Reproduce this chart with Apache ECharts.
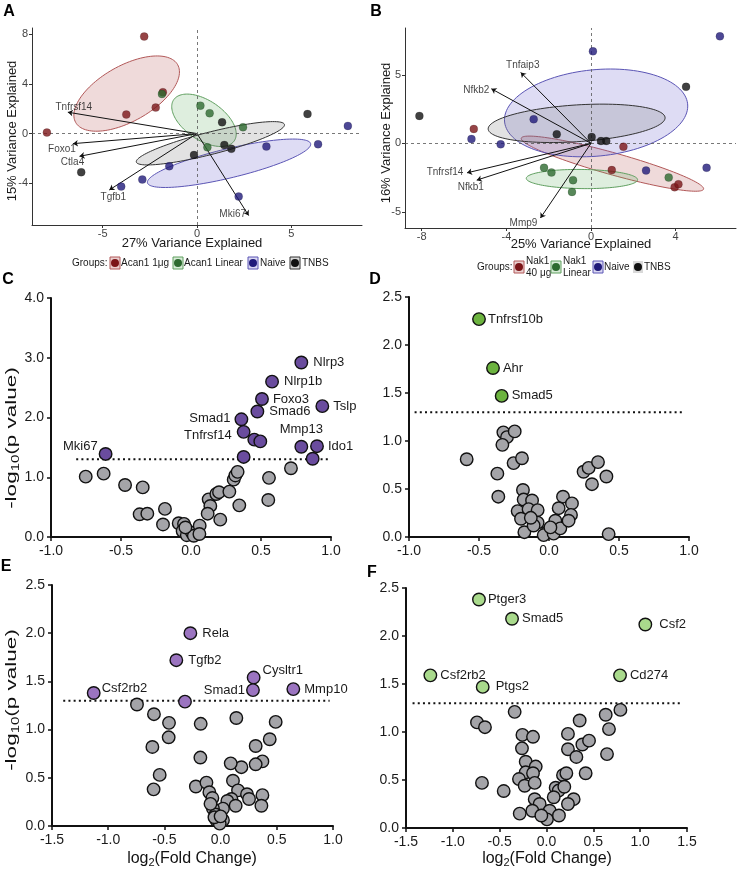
<!DOCTYPE html>
<html><head><meta charset="utf-8">
<script src="https://cdn.jsdelivr.net/npm/echarts@6/dist/echarts.min.js"></script>
<style>html,body{margin:0;padding:0;background:#fff}#c{width:738px;height:874px}</style>
</head><body><div id="c"></div><script>
// ---------------- DATA ----------------
// Panel A (PCA, Acan1)
const aGroupNames = ['Acan1 1μg', 'Acan1 Linear', 'Naive', 'TNBS'];
const aAcan1 = [[-2.80,7.81],[-1.81,3.33],[-2.19,2.09],[-3.75,1.53],[-7.96,0.08]];
const aLinear = [[-1.86,3.19],[0.18,2.25],[0.67,1.64],[2.44,0.51],[0.55,-1.10]];
const aNaive = [[8.0,0.62],[6.42,-0.86],[3.68,-1.05],[-1.47,-2.63],[-2.90,-3.70],[-4.02,-4.27],[2.21,-5.07]];
const aTnbs = [[5.86,1.58],[1.33,0.91],[1.45,-0.91],[1.82,-1.23],[-0.16,-1.72],[-6.14,-3.11]];
const aLoadGenes = ['Tnfrsf14','Foxo1','Ctla4','Tgfb1','Mki67'];
const aLoadings = [[-6.85,1.72],[-6.58,-0.81],[-6.23,-1.83],[-4.65,-4.54],[2.74,-6.60]];
// ellipse centre, half-width, half-height, y-offset at rightmost point (group order)
const aEllCenter = [[-3.73,3.22],[0.37,1.07],[1.70,-2.39],[0.71,-0.78]];
const aEllHalfW = [2.80,1.71,4.33,3.93];
const aEllHalfH = [3.03,2.11,1.95,1.745];
const aEllSkew = [1.74,-1.10,1.53,1.48];
const aXTicks = [-5,0,5];
const aYTicks = [-4,0,4,8];

// Panel B (PCA, Nak1)
const bGroupNames = ['Nak1\n40 μg', 'Nak1\nLinear', 'Naive', 'TNBS'];
const bNak1 = [[-5.54,1.05],[1.53,-0.24],[0.98,-1.95],[3.95,-3.20],[4.13,-2.98]];
const bLinear = [[-2.22,-1.78],[-1.87,-2.12],[-0.85,-2.68],[-0.90,-3.54],[3.67,-2.49]];
const bNaive = [[0.09,6.71],[6.09,7.80],[-2.71,1.76],[-5.65,0.32],[-4.27,-0.07],[2.60,-1.98],[5.46,-1.78]];
const bTnbs = [[-8.11,2.00],[4.49,4.12],[-1.62,0.66],[0.03,0.46],[0.47,0.17],[0.72,0.17]];
const bLoadGenes = ['Tnfaip3','Nfkb2','Tnfrsf14','Nfkb1','Mmp9'];
const bLoadings = [[-3.32,5.17],[-4.71,3.98],[-5.86,-2.15],[-5.40,-2.68],[-2.39,-5.44]];
const bEllCenter = [[1.01,-1.48],[-0.43,-2.60],[0.24,2.22],[-0.68,1.46]];
const bEllHalfW = [4.31,2.63,4.33,4.18];
const bEllHalfH = [2.01,0.70,3.20,1.40];
const bEllSkew = [-1.83,-0.05,0.50,0.40];
const bXTicks = [-8,-4,0,4];
const bYTicks = [-5,0,5];

// Volcano threshold
const pThreshold = 1.3;

// Panel C
const cGrey = [[-0.752,1.01],[-0.624,1.06],[-0.471,0.87],[-0.345,0.83],[-0.367,0.38],[-0.312,0.39],[-0.186,0.47],[-0.200,0.21],[-0.088,0.23],[-0.050,0.22],[-0.060,0.10],[-0.030,0.03],[0.007,0.07],[0.020,0.02],[0.062,0.19],[0.060,0.05],[0.126,0.63],[0.138,0.52],[0.119,0.39],[0.209,0.29],[0.181,0.72],[0.200,0.75],[0.274,0.76],[0.305,0.96],[0.317,1.03],[0.333,1.09],[0.345,0.53],[0.557,0.99],[0.552,0.62],[0.714,1.15],[-0.040,0.16]];
const cSigGenes = ['Nlrp3','Nlrp1b','Foxo3','Smad6','Tslp','Smad1','Tnfrsf14','','','','Mmp13','Ido1','','Mki67'];
const cSig = [[0.788,2.92],[0.579,2.60],[0.507,2.31],[0.474,2.10],[0.938,2.19],[0.360,1.97],[0.376,1.76],[0.452,1.63],[0.495,1.60],[0.376,1.34],[0.788,1.51],[0.900,1.52],[0.869,1.31],[-0.610,1.39]];
const cThreshX = [-0.82,0.98];

// Panel D
const dGrey = [[-0.588,0.81],[-0.326,1.09],[-0.300,1.04],[-0.245,1.10],[-0.333,0.96],[-0.253,0.77],[-0.193,0.82],[-0.369,0.66],[-0.362,0.42],[-0.186,0.49],[-0.181,0.39],[-0.121,0.38],[-0.224,0.27],[-0.146,0.29],[-0.200,0.19],[-0.081,0.28],[-0.081,0.15],[-0.176,0.05],[-0.110,0.12],[-0.014,0.05],[-0.038,0.02],[0.033,0.035],[0.045,0.17],[0.081,0.09],[0.100,0.42],[0.069,0.30],[0.164,0.35],[0.157,0.23],[0.140,0.17],[0.247,0.68],[0.283,0.72],[0.350,0.78],[0.307,0.55],[0.410,0.63],[0.426,0.03],[-0.130,0.20],[0.010,0.10]];
const dSigGenes = ['Tnfrsf10b','Ahr','Smad5'];
const dSig = [[-0.50,2.27],[-0.40,1.76],[-0.338,1.47]];
const dThreshX = [-0.96,0.97];

// Panel E
const eGrey = [[-0.744,1.26],[-0.593,1.16],[-0.459,1.07],[-0.462,0.92],[-0.607,0.82],[-0.542,0.53],[-0.596,0.38],[-0.177,1.06],[-0.180,0.71],[0.140,1.12],[0.490,1.08],[0.437,0.90],[0.312,0.83],[0.372,0.67],[0.312,0.64],[0.185,0.61],[0.090,0.65],[0.110,0.47],[-0.220,0.41],[-0.126,0.45],[-0.100,0.35],[-0.073,0.29],[0.155,0.37],[0.235,0.33],[0.253,0.28],[0.372,0.32],[0.363,0.21],[0.096,0.28],[0.060,0.26],[0.134,0.21],[0.021,0.18],[-0.068,0.18],[-0.044,0.12],[-0.037,0.06],[0.021,0.06],[-0.008,0.025],[-0.090,0.23],[-0.055,0.09],[0.000,0.10]];
const eSigGenes = ['Rela','Tgfb2','Cysltr1','Smad1','Mmp10','Csf2rb2',''];
const eSig = [[-0.269,2.00],[-0.394,1.72],[0.294,1.54],[0.288,1.41],[0.647,1.42],[-1.129,1.38],[-0.317,1.29]];
const eThreshX = [-1.40,0.97];

// Panel F
const fGrey = [[-0.742,1.10],[-0.657,1.05],[-0.340,1.21],[0.632,1.18],[0.789,1.23],[0.354,1.12],[0.667,1.03],[-0.257,0.97],[-0.144,0.95],[0.229,0.98],[-0.262,0.83],[0.229,0.82],[0.383,0.87],[0.454,0.91],[0.319,0.74],[0.646,0.77],[-0.222,0.69],[-0.115,0.64],[-0.222,0.58],[-0.144,0.57],[-0.294,0.51],[-0.233,0.44],[-0.126,0.47],[-0.457,0.385],[-0.689,0.47],[0.176,0.55],[0.212,0.57],[0.418,0.57],[0.098,0.42],[0.130,0.39],[0.077,0.32],[0.190,0.43],[0.290,0.30],[0.229,0.25],[-0.126,0.30],[-0.073,0.25],[-0.151,0.18],[-0.286,0.15],[0.034,0.18],[0.005,0.09],[-0.055,0.13],[0.133,0.13]];
const fSigGenes = ['Ptger3','Smad5','Csf2','Csf2rb2','Cd274','Ptgs2'];
const fSig = [[-0.721,2.38],[-0.368,2.18],[1.055,2.12],[-1.240,1.59],[0.785,1.59],[-0.681,1.47]];
const fThreshX = [-1.43,1.45];

// ---------------- STYLE ----------------
const FONT = '"Liberation Sans", Arial, Helvetica, sans-serif';
const ptColors = ['#7c1518','#2d6a2f','#201a7a','#111111'];
const ellFill = ['rgba(175,70,70,0.20)','rgba(90,170,90,0.20)','rgba(105,95,205,0.22)','rgba(110,110,110,0.20)'];
const ellStroke = ['#b25858','#5f9f5f','#5b55b5','#333333'];
const legFill = ['#ead0d0','#d7ebd7','#d9d7f1','#d9d9d9'];
const aLabelOffset = [[6,-5],[-11,6],[-7,6],[4,7],[-16,-1]];
const bLabelOffset = [[2,-7],[-15,1],[-22,-1],[-6,7],[-17,5]];
const cLabelPlace = [['right',5],['right',5],['right',4],['right',5],['right',4],['left',4,0,-1],['left',5,0,4],null,null,null,['top',4],['right',4],null,['left',1,0,-8]];
const dLabelPlace = [['right',2],['right',3],['right',3]];
const eLabelPlace = [['right',5],['right',5],['right',2,0,-7],['left',1],['right',4],['right',1,0,-5],null];
const fLabelPlace = [['right',2],['right',3],['right',7],['right',3],['right',3],['right',6]];

const chart = echarts.init(document.getElementById('c'));

const grids = [
  {left:32, top:28, width:330, height:197},
  {left:405, top:28, width:331, height:200},
  {left:51, top:298, width:280, height:239},
  {left:409, top:297, width:280, height:240},
  {left:52, top:585, width:281, height:241},
  {left:406, top:588, width:281, height:240}
];

function pcaAxis(dim, gi, min, max, ticks){
  return {type:'value', gridIndex:gi, min:min, max:max,
    axisLine:{show:true, onZero:false, lineStyle:{color:'#333', width:1}},
    axisTick:{show:true, customValues:ticks, length:3, lineStyle:{color:'#333', width:1}},
    axisLabel:{customValues:ticks, color:'#444', fontSize:11, fontFamily:FONT, margin: dim==='x'?3:4},
    splitLine:{show:false}};
}
function fmt(v){ return Math.abs(v) < 1e-9 ? '0.0' : v.toFixed(1); }
function volAxis(gi, min, max, iv){
  return {type:'value', gridIndex:gi, min:min, max:max, interval:iv,
    axisLine:{show:true, onZero:false, lineStyle:{color:'#111', width:2}},
    axisTick:{show:true, length:4, lineStyle:{color:'#111', width:1.5}},
    axisLabel:{formatter:fmt, color:'#1a1a1a', fontSize:14, fontFamily:FONT, margin:7, showMinLabel:true, showMaxLabel:true},
    splitLine:{show:false}};
}

function ellipseSeries(gi, centers, hw, hh, sk){
  return {type:'custom', xAxisIndex:gi, yAxisIndex:gi, silent:true, z:1, data:centers,
    renderItem:function(p, api){
      const i = p.dataIndex;
      const q = Math.sqrt(Math.max(hh[i]*hh[i]-sk[i]*sk[i], 0.0001));
      const pts = [];
      for(let k=0;k<120;k++){
        const t = k/120*Math.PI*2;
        pts.push(api.coord([centers[i][0]+hw[i]*Math.cos(t), centers[i][1]+sk[i]*Math.cos(t)+q*Math.sin(t)]));
      }
      return {type:'polygon', shape:{points:pts}, style:{fill:ellFill[i], stroke:ellStroke[i], lineWidth:1}};
    }};
}
function zeroLines(gi){
  return {type:'scatter', xAxisIndex:gi, yAxisIndex:gi, data:[], silent:true, z:2,
    markLine:{silent:true, symbol:['none','none'], label:{show:false}, animation:false,
      lineStyle:{color:'#555', width:0.8, type:[3,3]},
      data:[{xAxis:0},{yAxis:0}]}};
}
function arrowSeries(gi, loads){
  return {type:'lines', coordinateSystem:'cartesian2d', xAxisIndex:gi, yAxisIndex:gi, silent:true, z:4,
    symbol:['none','arrow'], symbolSize:5,
    lineStyle:{color:'#111', width:1, opacity:1},
    data:loads.map(p=>({coords:[[0,0],p]}))};
}
function arrowLabels(gi, genes, loads, offs){
  return {type:'scatter', xAxisIndex:gi, yAxisIndex:gi, silent:true, z:7, symbolSize:1,
    itemStyle:{color:'rgba(0,0,0,0)'},
    data:loads.map((p,i)=>({name:genes[i], value:p,
      label:{show:true, position:'inside', offset:offs[i], formatter:genes[i], color:'#111', fontSize:10, fontFamily:FONT}}))};
}
function groupPoints(gi, data, color){
  return {type:'scatter', xAxisIndex:gi, yAxisIndex:gi, silent:true, z:5, symbolSize:8, data:data,
    itemStyle:{color:color, borderColor:'rgba(0,0,0,0.35)', borderWidth:0.5}};
}
function greySeries(gi, data){
  return {type:'scatter', xAxisIndex:gi, yAxisIndex:gi, silent:true, z:4, symbolSize:12.5, data:data,
    itemStyle:{color:'#a4a4a8', borderColor:'#111', borderWidth:1.4, opacity:1}};
}
function sigSeries(gi, data, genes, place, color){
  return {type:'scatter', xAxisIndex:gi, yAxisIndex:gi, silent:true, z:5, symbolSize:12.5,
    itemStyle:{color:color, borderColor:'#111', borderWidth:1.4, opacity:1},
    data:data.map((p,i)=>{
      const pl = place[i];
      const item = {name:genes[i], value:p};
      if(pl && genes[i]){
        item.label = {show:true, position:pl[0], distance:pl[1], offset:[pl[2]||0, pl[3]||0],
          formatter:genes[i], color:'#1a1a1a', fontSize:13, fontFamily:FONT};
      }
      return item;
    })};
}
function threshSeries(gi, xs){
  return {type:'line', xAxisIndex:gi, yAxisIndex:gi, silent:true, z:3, symbol:'none',
    data:[[xs[0],pThreshold],[xs[1],pThreshold]],
    lineStyle:{color:'#111', width:2, type:[2,3.2], cap:'butt'}};
}

// ---------- graphics ----------
const g = [];
function txt(x, y, text, size, opts){
  g.push(Object.assign({type:'text', x:x, y:y, silent:true, z:10,
    style:{text:text, fontSize:size, fontFamily:FONT, fill:'#1a1a1a', align:'left', verticalAlign:'middle'}}, opts||{}));
}
// panel letters
[['A',9,12],['B',376,12],['C',8,280],['D',375,280],['E',6,567],['F',372,573]].forEach(l=>{
  g.push({type:'text', x:l[1], y:l[2], silent:true, style:{text:l[0], fontSize:16, fontWeight:'bold', fontFamily:FONT, fill:'#000', align:'center', verticalAlign:'middle'}});
});
// PCA titles
function ctext(x, y, text, size, rot){
  g.push({type:'text', x:x, y:y, rotation:rot||0, silent:true,
    style:{text:text, fontSize:size, fontFamily:FONT, fill:'#1a1a1a', align:'center', verticalAlign:'middle'}});
}
ctext(192, 243, '27% Variance Explained', 13);
ctext(12, 131, '15% Variance Explained', 13, Math.PI/2);
ctext(581, 244, '25% Variance Explained', 13);
ctext(386, 133, '16% Variance Explained', 13, Math.PI/2);
// volcano titles with subscripts
const subRich = {a:{fontSize:15, fontFamily:FONT, fill:'#111'}, s:{fontSize:10, fontFamily:FONT, fill:'#111', padding:[8,0,0,0]}};
const subRichX = {a:{fontSize:16, fontFamily:FONT, fill:'#111'}, s:{fontSize:11, fontFamily:FONT, fill:'#111', padding:[8,0,0,0]}};
function ytitle(x, y){
  g.push({type:'text', x:x, y:y, rotation:Math.PI/2, scaleX:1.5, silent:true,
    style:{text:'{a|-log}{s|10}{a|(p value)}', rich:subRich, align:'center', verticalAlign:'middle'}});
}
function xtitle(x, y){
  g.push({type:'text', x:x, y:y, silent:true,
    style:{text:'{a|log}{s|2}{a|(Fold Change)}', rich:subRichX, align:'center', verticalAlign:'middle'}});
}
ytitle(12, 438); ytitle(12, 700);
xtitle(192, 859); xtitle(547, 859);

// legends
function legendBox(x, yc, gi, border){
  g.push({type:'rect', silent:true, shape:{x:x, y:yc-6, width:10, height:12},
    style:{fill:legFill[gi], stroke:border?ellStroke[gi]:null, lineWidth:border?1:0}});
  g.push({type:'circle', silent:true, shape:{cx:x+5, cy:yc, r:4}, style:{fill:ptColors[gi]}});
}
txt(72, 263, 'Groups:', 10);
legendBox(110, 263, 0, true); txt(121, 263, aGroupNames[0], 10);
legendBox(173, 263, 1, true); txt(184, 263, aGroupNames[1], 10);
legendBox(248, 263, 2, true); txt(260, 263, aGroupNames[2], 10);
legendBox(290, 263, 3, true); txt(302, 263, aGroupNames[3], 10);

txt(477, 267, 'Groups:', 10);
legendBox(514, 267, 0, true);
g.push({type:'text', x:526, y:267, silent:true, style:{text:bGroupNames[0], fontSize:10, lineHeight:11.5, fontFamily:FONT, fill:'#1a1a1a', align:'left', verticalAlign:'middle'}});
legendBox(551, 267, 1, true);
g.push({type:'text', x:563, y:267, silent:true, style:{text:bGroupNames[1], fontSize:10, lineHeight:11.5, fontFamily:FONT, fill:'#1a1a1a', align:'left', verticalAlign:'middle'}});
legendBox(593, 267, 2, true); txt(604, 267, bGroupNames[2], 10);
legendBox(633, 267, 3, false); txt(644, 267, bGroupNames[3], 10);

const option = {
  animation:false,
  backgroundColor:'#fff',
  grid:grids.map(o=>Object.assign({containLabel:false}, o)),
  xAxis:[
    pcaAxis('x',0,-8.75,8.75,aXTicks),
    pcaAxis('x',1,-8.79,6.85,bXTicks),
    volAxis(2,-1,1,0.5),
    volAxis(3,-1,1,0.5),
    volAxis(4,-1.5,1,0.5),
    volAxis(5,-1.5,1.5,0.5)
  ],
  yAxis:[
    pcaAxis('y',0,-7.36,8.5,aYTicks),
    pcaAxis('y',1,-6.17,8.41,bYTicks),
    volAxis(2,0,4,1),
    volAxis(3,0,2.5,0.5),
    volAxis(4,0,2.5,0.5),
    volAxis(5,0,2.5,0.5)
  ],
  graphic:g,
  series:[
    ellipseSeries(0, aEllCenter, aEllHalfW, aEllHalfH, aEllSkew),
    zeroLines(0),
    arrowSeries(0, aLoadings),
    arrowLabels(0, aLoadGenes, aLoadings, aLabelOffset),
    groupPoints(0, aAcan1, ptColors[0]),
    groupPoints(0, aLinear, ptColors[1]),
    groupPoints(0, aNaive, ptColors[2]),
    groupPoints(0, aTnbs, ptColors[3]),

    ellipseSeries(1, bEllCenter, bEllHalfW, bEllHalfH, bEllSkew),
    zeroLines(1),
    arrowSeries(1, bLoadings),
    arrowLabels(1, bLoadGenes, bLoadings, bLabelOffset),
    groupPoints(1, bNak1, ptColors[0]),
    groupPoints(1, bLinear, ptColors[1]),
    groupPoints(1, bNaive, ptColors[2]),
    groupPoints(1, bTnbs, ptColors[3]),

    threshSeries(2, cThreshX), greySeries(2, cGrey), sigSeries(2, cSig, cSigGenes, cLabelPlace, '#6a4c9e'),
    threshSeries(3, dThreshX), greySeries(3, dGrey), sigSeries(3, dSig, dSigGenes, dLabelPlace, '#6cb33f'),
    threshSeries(4, eThreshX), greySeries(4, eGrey), sigSeries(4, eSig, eSigGenes, eLabelPlace, '#9b74c0'),
    threshSeries(5, fThreshX), greySeries(5, fGrey), sigSeries(5, fSig, fSigGenes, fLabelPlace, '#a9da8c')
  ]
};
chart.setOption(option);
</script></body></html>
